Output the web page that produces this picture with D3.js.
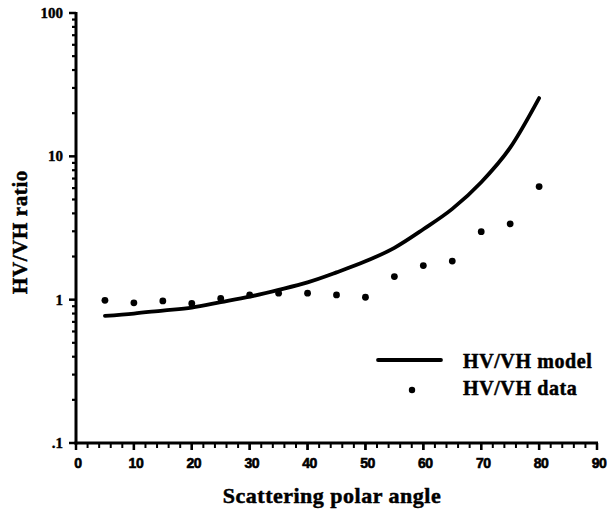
<!DOCTYPE html>
<html><head><meta charset="utf-8">
<script src="https://cdn.jsdelivr.net/npm/d3@7"></script>
<style>body{margin:0;background:#fff}svg{display:block}</style>
</head><body>
<script>
const modelAngles = [5,10,15,20,25,30,35,40,45,50,55,60,65,70,75,80];
const modelRatio  = [0.77,0.80,0.84,0.88,0.96,1.05,1.17,1.32,1.55,1.85,2.3,3.1,4.3,6.6,11.5,25.5];
const dataAngles  = [5,10,15,20,25,30,35,40,45,50,55,60,65,70,75,80];
const dataRatio   = [0.99,0.95,0.98,0.94,1.02,1.08,1.11,1.11,1.08,1.04,1.45,1.73,1.86,2.98,3.38,6.15];
const xTickValues = [0,10,20,30,40,50,60,70,80,90];
const yTickValues = [0.1,1,10,100];
const yTickLabels = [".1","1","10","100"];
const legendLabels = ["HV/VH model","HV/VH data"];

const W=610,H=513;
const svg=d3.select("body").append("svg").attr("width",W).attr("height",H);
const x=d3.scaleLinear().domain([0,90]).range([76,597]);
const y=d3.scaleLog().domain([0.1,100]).range([443,13]);
const serif="'Liberation Serif','Times New Roman',serif";
const sans="'Liberation Sans',Arial,sans-serif";

// axes lines
svg.append("line").attr("x1",x(0)).attr("x2",x(0)).attr("y1",y(100)-1).attr("y2",y(0.1)+1.5)
  .attr("stroke","#000").attr("stroke-width",3);
svg.append("line").attr("x1",x(0)-1.5).attr("x2",x(90)+1).attr("y1",y(0.1)).attr("y2",y(0.1))
  .attr("stroke","#000").attr("stroke-width",3);

// x ticks
const xMinor=d3.range(0,91,2);
svg.append("g").selectAll("line").data(xMinor).join("line")
  .attr("x1",d=>x(d)).attr("x2",d=>x(d)).attr("y1",y(0.1)).attr("y2",d=>y(0.1)+(d%10===0?7:5))
  .attr("stroke","#000").attr("stroke-width",2);
svg.append("g").selectAll("line").data(xTickValues).join("line")
  .attr("x1",d=>x(d)).attr("x2",d=>x(d)).attr("y1",y(0.1)).attr("y2",y(0.1)+7)
  .attr("stroke","#000").attr("stroke-width",2.5);
svg.append("g").selectAll("text").data(xTickValues).join("text")
  .attr("x",d=>x(d)+2).attr("y",468).attr("text-anchor","middle")
  .attr("font-family",sans).attr("font-weight","bold").attr("font-size",14)
  .attr("stroke","#000").attr("stroke-width",0.6)
  .attr("letter-spacing",-0.5).text(d=>d);

// y ticks
const yMinor=[];
[0.1,1,10].forEach(b=>{for(let k=2;k<=9;k++)yMinor.push(b*k);});
svg.append("g").selectAll("line").data(yMinor).join("line")
  .attr("x1",x(0)).attr("x2",x(0)-4).attr("y1",d=>y(d)).attr("y2",d=>y(d))
  .attr("stroke","#000").attr("stroke-width",2.2);
svg.append("g").selectAll("line").data(yTickValues).join("line")
  .attr("x1",x(0)).attr("x2",x(0)-7).attr("y1",d=>y(d)).attr("y2",d=>y(d))
  .attr("stroke","#000").attr("stroke-width",2.5);
svg.append("g").selectAll("text").data(yTickValues).join("text")
  .attr("x",63).attr("y",d=>y(d)+5).attr("text-anchor","end")
  .attr("font-family",serif).attr("font-weight","bold").attr("font-size",15)
  .attr("stroke","#000").attr("stroke-width",0.4)
  .text((d,i)=>yTickLabels[i]);

// model line
const line=d3.line().x(d=>x(d[0])).y(d=>y(d[1])).curve(d3.curveMonotoneX);
svg.append("path").datum(modelAngles.map((a,i)=>[a,modelRatio[i]]))
  .attr("d",line).attr("fill","none").attr("stroke","#000").attr("stroke-width",3.8)
  .attr("stroke-linecap","round");

// data points
svg.append("g").selectAll("circle").data(dataAngles.map((a,i)=>[a,dataRatio[i]])).join("circle")
  .attr("cx",d=>x(d[0])).attr("cy",d=>y(d[1])).attr("r",3.4).attr("fill","#000");

// legend
svg.append("line").attr("x1",378).attr("x2",441).attr("y1",360).attr("y2",360)
  .attr("stroke","#000").attr("stroke-width",3.8).attr("stroke-linecap","round");
svg.append("circle").attr("cx",412).attr("cy",390).attr("r",3.2).attr("fill","#000");
svg.append("g").selectAll("text").data(legendLabels).join("text")
  .attr("x",463).attr("y",(d,i)=>368+i*27)
  .attr("font-family",serif).attr("font-weight","bold").attr("font-size",20)
  .attr("stroke","#000").attr("stroke-width",0.5)
  .attr("letter-spacing",0.6).text(d=>d);

// axis titles
svg.append("text").attr("x",332).attr("y",503).attr("text-anchor","middle")
  .attr("font-family",serif).attr("font-weight","bold").attr("font-size",22)
  .attr("stroke","#000").attr("stroke-width",0.5)
  .attr("letter-spacing",0.5).text("Scattering polar angle");
svg.append("text").attr("transform","translate(27,232) rotate(-90)").attr("text-anchor","middle")
  .attr("font-family",serif).attr("font-weight","bold").attr("font-size",21)
  .attr("stroke","#000").attr("stroke-width",0.5)
  .attr("letter-spacing",0.6).text("HV/VH ratio");
</script>
</body></html>
